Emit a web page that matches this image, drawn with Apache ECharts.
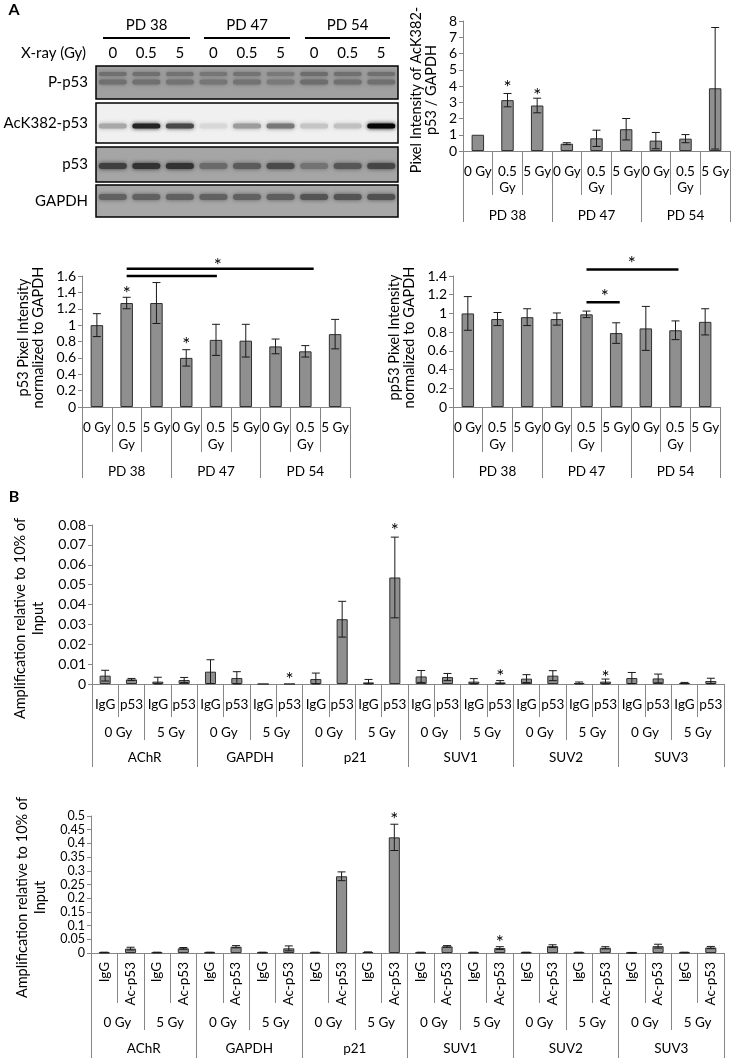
<!DOCTYPE html>
<html><head><meta charset="utf-8">
<script src="https://cdn.jsdelivr.net/npm/echarts@6/dist/echarts.min.js"></script>
<style>html,body{margin:0;padding:0;background:#fff}#c{width:737px;height:1064px}</style>
</head><body><div id="c"></div>
<script>
const FONT = 'Lato';

// ---------- Panel A data ----------
const doseCats = ['0 Gy','0.5\nGy','5 Gy','0 Gy','0.5\nGy','5 Gy','0 Gy','0.5\nGy','5 Gy'];
const pdCats = ['PD 38','PD 47','PD 54'];

const ackValues = [1.0, 3.13, 2.80, 0.45, 0.78, 1.34, 0.64, 0.76, 3.86];
const ackErrors = [0, 0.41, 0.45, 0.06, 0.50, 0.66, 0.50, 0.25, 3.74];
const ackStars = [[1, 4.19], [2, 3.67]];
const ackTicks = {min: 0, max: 8, interval: 1};

const p53Values = [1.0, 1.27, 1.27, 0.60, 0.82, 0.81, 0.74, 0.68, 0.89];
const p53Errors = [0.14, 0.07, 0.25, 0.10, 0.19, 0.20, 0.09, 0.07, 0.18];
const p53Stars = [[1, 1.44], [3, 0.82], [4.06, 1.78]];
const p53Brackets = [[1, 7.28, 1.69], [1, 4.03, 1.60]];
const p53Ticks = {min: 0, max: 1.6, interval: 0.2};

const pp53Values = [1.0, 0.94, 0.96, 0.94, 0.99, 0.79, 0.84, 0.82, 0.91];
const pp53Errors = [0.18, 0.07, 0.09, 0.065, 0.035, 0.11, 0.235, 0.10, 0.14];
const pp53Stars = [[5.53, 1.58], [4.62, 1.23]];
const pp53Brackets = [[4, 7.1, 1.47], [4, 5.12, 1.12]];
const pp53Ticks = {min: 0, max: 1.4, interval: 0.2};

// ---------- Western blot (band darkness per lane, 0..1) ----------
const blotLanes = ['0','0.5','5','0','0.5','5','0','0.5','5'];
const blotRows = ['P-p53','AcK382-p53','p53','GAPDH'];
const bandPp53 = [0.30,0.30,0.28,0.26,0.28,0.24,0.32,0.30,0.30];
const bandAck = [0.30,0.85,0.70,0.10,0.35,0.50,0.18,0.20,0.97];
const bandP53 = [0.62,0.70,0.70,0.36,0.45,0.55,0.30,0.48,0.58];
const bandGapdh = [0.42,0.42,0.42,0.42,0.42,0.44,0.50,0.50,0.52];

// ---------- Panel B data ----------
const chipAb1 = ['IgG','p53','IgG','p53','IgG','p53','IgG','p53','IgG','p53','IgG','p53','IgG','p53','IgG','p53','IgG','p53','IgG','p53','IgG','p53','IgG','p53'];
const chipAb2 = ['IgG','Ac-p53','IgG','Ac-p53','IgG','Ac-p53','IgG','Ac-p53','IgG','Ac-p53','IgG','Ac-p53','IgG','Ac-p53','IgG','Ac-p53','IgG','Ac-p53','IgG','Ac-p53','IgG','Ac-p53','IgG','Ac-p53'];
const chipDoses = ['0 Gy','5 Gy','0 Gy','5 Gy','0 Gy','5 Gy','0 Gy','5 Gy','0 Gy','5 Gy','0 Gy','5 Gy'];
const chipGenes = ['AChR','GAPDH','p21','SUV1','SUV2','SUV3'];

const p53ChipValues = [0.0042,0.0023,0.0012,0.0020, 0.0062,0.0030,0,0, 0.0025,0.0326,0.0008,0.0536, 0.0038,0.0035,0.0012,0.0008, 0.0027,0.0042,0.0005,0.0012, 0.0030,0.0028,0.0005,0.0015];
const p53ChipErrors = [0.0027,0.0005,0.0022,0.0013, 0.0060,0.0032,0,0, 0.0030,0.0090,0.0015,0.0203, 0.0030,0.0018,0.0015,0.0009, 0.0020,0.0025,0.0005,0.0013, 0.0028,0.0022,0.0003,0.0014];
const p53ChipStars = [[7, 0.0045], [11, 0.0795], [15, 0.0062], [19, 0.0057]];
const p53ChipTicks = {min: 0, max: 0.08, interval: 0.01};

const acChipValues = [0.002,0.016,0.002,0.017, 0.002,0.023,0.002,0.017, 0.002,0.280,0.003,0.422, 0.002,0.024,0.002,0.018, 0.002,0.025,0.002,0.019, 0.001,0.025,0.002,0.020];
const acChipErrors = [0.001,0.005,0.001,0.003, 0.001,0.004,0.001,0.009, 0.001,0.016,0.001,0.048, 0.001,0.003,0.001,0.005, 0.001,0.005,0.001,0.004, 0.001,0.007,0.001,0.004];
const acChipStars = [[11, 0.504], [15, 0.055]];
const acChipTicks = {min: 0, max: 0.5, interval: 0.05};

// ---------- builders ----------
const AXIS_GREY = '#868686';
const grids = [], xAxes = [], yAxes = [], series = [];

function errItem(params, api) {
  const x = api.value(0), lo = api.value(1), hi = api.value(2);
  if (!(hi > lo)) return null;
  const a = api.coord([x, hi]), b = api.coord([x, lo]);
  const hw = 4, st = {stroke: '#1a1a1a', lineWidth: 1};
  return {type: 'group', children: [
    {type: 'line', shape: {x1: a[0], y1: a[1], x2: b[0], y2: b[1]}, style: st},
    {type: 'line', shape: {x1: a[0]-hw, y1: a[1], x2: a[0]+hw, y2: a[1]}, style: st},
    {type: 'line', shape: {x1: b[0]-hw, y1: b[1], x2: b[0]+hw, y2: b[1]}, style: st}
  ]};
}
function starItem(params, api) {
  const base = api.coord([0, api.value(1)]);
  const band = api.size([1, 0])[0];
  const x = base[0] + api.value(0) * band;
  return {type: 'text', x: x, y: base[1] + 5,
    style: {text: '*', fontSize: 19, fontFamily: FONT, fill: '#000', align: 'center', verticalAlign: 'middle'}};
}
function bracketItem(params, api) {
  const base = api.coord([0, api.value(2)]);
  const band = api.size([1, 0])[0];
  const x1 = base[0] + api.value(0) * band, x2 = base[0] + api.value(1) * band;
  return {type: 'line', shape: {x1: x1, y1: base[1], x2: x2, y2: base[1]},
    style: {stroke: '#000', lineWidth: 2.5}};
}

function addChart(c) {
  const gi = grids.length;
  grids.push({left: c.left, top: c.top, width: c.width, height: c.height, outerBoundsMode: 'none', containLabel: false});
  const xBase = xAxes.length;
  c.levels.forEach((lv, k) => {
    xAxes.push({
      type: 'category', gridIndex: gi, position: 'bottom', data: lv.data,
      axisLine: {show: k === 0, lineStyle: {color: AXIS_GREY, width: 1}},
      axisTick: {show: true, interval: 0, length: lv.tickLen, lineStyle: {color: AXIS_GREY, width: 1}},
      axisLabel: {interval: 0, margin: lv.margin, fontSize: 13.5, fontFamily: FONT, color: '#000',
        lineHeight: lv.lineHeight || 16, rotate: lv.rotate || 0, hideOverlap: false},
      splitLine: {show: false}
    });
  });
  const yi = yAxes.length;
  const yf = c.yFont || 14;
  yAxes.push({
    type: 'value', gridIndex: gi, min: c.ticks.min, max: c.ticks.max, interval: c.ticks.interval,
    name: c.yName, nameLocation: 'middle', nameGap: c.nameGap, nameRotate: 90,
    nameTextStyle: {fontSize: 14.5, fontFamily: FONT, color: '#000', lineHeight: c.nameLH || 15, padding: c.namePad || 0},
    axisLine: {show: true, lineStyle: {color: AXIS_GREY, width: 1}},
    axisTick: {show: true, length: 4, lineStyle: {color: AXIS_GREY}},
    axisLabel: {fontSize: yf, lineHeight: yf, fontFamily: FONT, color: '#000', margin: 6, hideOverlap: false},
    splitLine: {show: false}
  });
  series.push({
    type: 'bar', xAxisIndex: xBase, yAxisIndex: yi, data: c.values, barWidth: c.barWidth || '42%',
    itemStyle: {color: '#8f8f8f', borderColor: '#303030', borderWidth: 1}, silent: true
  });
  series.push({
    type: 'custom', xAxisIndex: xBase, yAxisIndex: yi, renderItem: errItem, clip: false, silent: true, z: 3,
    encode: {x: 0, y: [1, 2]},
    data: c.values.map((v, i) => [i, Math.max(0, v - c.errors[i]), v + c.errors[i]])
  });
  if (c.stars) series.push({
    type: 'custom', xAxisIndex: xBase, yAxisIndex: yi, renderItem: starItem, clip: false, silent: true, z: 4,
    encode: {x: 0, y: 1}, data: c.stars
  });
  if (c.brackets) series.push({
    type: 'custom', xAxisIndex: xBase, yAxisIndex: yi, renderItem: bracketItem, clip: false, silent: true, z: 4,
    encode: {x: [0, 1], y: 2}, data: c.brackets
  });
}

addChart({left: 463, top: 21, width: 267, height: 130, ticks: ackTicks,
  yName: 'Pixel Intensity of AcK382-\np53 / GAPDH', nameGap: 24, namePad: [0, 8, 0, 0],
  values: ackValues, errors: ackErrors, stars: ackStars,
  levels: [{data: doseCats, tickLen: 44, margin: 13, lineHeight: 16},
           {data: pdCats, tickLen: 71, margin: 57}]});

addChart({left: 82, top: 276, width: 268, height: 131, ticks: p53Ticks,
  yName: 'p53 Pixel Intensity\nnormalized to GAPDH', nameGap: 36, namePad: [0, 0, 0, 8],
  values: p53Values, errors: p53Errors, stars: p53Stars, brackets: p53Brackets,
  levels: [{data: doseCats, tickLen: 45, margin: 12, lineHeight: 17},
           {data: pdCats, tickLen: 71, margin: 57}]});

addChart({left: 453, top: 276, width: 267, height: 131, ticks: pp53Ticks,
  yName: 'pp53 Pixel Intensity\nnormalized to GAPDH', nameGap: 36, namePad: [0, 0, 0, 8],
  values: pp53Values, errors: pp53Errors, stars: pp53Stars, brackets: pp53Brackets,
  levels: [{data: doseCats, tickLen: 45, margin: 12, lineHeight: 17},
           {data: pdCats, tickLen: 71, margin: 57}]});

addChart({left: 92, top: 525, width: 632, height: 159, ticks: p53ChipTicks,
  yName: 'Amplification relative to 10% of\nInput', nameGap: 42, nameLH: 18, namePad: [0, 28, 0, 0],
  values: p53ChipValues, errors: p53ChipErrors, stars: p53ChipStars,
  levels: [{data: chipAb1, tickLen: 33, margin: 13},
           {data: chipDoses, tickLen: 56, margin: 41},
           {data: chipGenes, tickLen: 83, margin: 66}]});

addChart({left: 91, top: 816, width: 633, height: 137, ticks: acChipTicks, yFont: 12.5,
  yName: 'Amplification relative to 10% of\nInput', nameGap: 41, nameLH: 18, namePad: [0, 26, 0, 0],
  values: acChipValues, errors: acChipErrors, stars: acChipStars,
  levels: [{data: chipAb2, tickLen: 50, margin: 9, rotate: 90},
           {data: chipDoses, tickLen: 77, margin: 62},
           {data: chipGenes, tickLen: 105, margin: 88}]});

// ---------- blot drawing (graphic) ----------
function mix(bg, d) { const v = Math.round(bg * (1 - d)); return 'rgb(' + v + ',' + v + ',' + v + ')'; }
const graphic = [];
const T = (text, x, y, o) => graphic.push(Object.assign({type: 'text', x: x, y: y,
  style: Object.assign({text: text, fontFamily: FONT, fontSize: 15, fill: '#000', align: 'center', verticalAlign: 'middle'}, o || {})}));
T('A', 14, 10, {fontWeight: 'bold', fontSize: 16});
T('B', 14, 497, {fontWeight: 'bold', fontSize: 16});
const pdX = [[103, 190], [204, 290], [305, 390]];
pdCats.forEach((p, i) => {
  T(p, (pdX[i][0] + pdX[i][1]) / 2, 25);
  graphic.push({type: 'line', shape: {x1: pdX[i][0], y1: 38, x2: pdX[i][1], y2: 38}, style: {stroke: '#000', lineWidth: 2.2}});
});
T('X-ray (Gy)', 86, 53, {align: 'right'});
const boxL = 96, boxR = 398, laneW = (boxR - boxL) / 9;
const laneX = i => boxL + laneW * (i + 0.5);
blotLanes.forEach((l, i) => T(l, laneX(i), 53));
const boxes = [
  {y0: 66, y1: 99, bg: 160, bands: [[bandPp53, 74, 4], [bandPp53, 82, 5]]},
  {y0: 103, y1: 143, bg: 240, bands: [[bandAck, 126, 5]]},
  {y0: 147, y1: 182, bg: 165, bands: [[bandP53, 166, 6]]},
  {y0: 185, y1: 217, bg: 168, bands: [[bandGapdh, 197, 6]]}
];
boxes.forEach((b, r) => {
  T(blotRows[r], 88, (b.y0 + b.y1) / 2, {align: 'right'});
  graphic.push({type: 'rect', shape: {x: boxL, y: b.y0, width: boxR - boxL, height: b.y1 - b.y0},
    style: {fill: mix(b.bg, 0), stroke: '#000', lineWidth: 1.5}});
  b.bands.forEach(([arr, cy, h]) => arr.forEach((d, i) => {
    const col = mix(b.bg, d);
    graphic.push({type: 'rect', shape: {x: laneX(i) - 14, y: cy - h / 2, width: 28, height: h, r: h / 2},
      style: {fill: col, shadowBlur: 4, shadowColor: col}});
  }));
});

const chart = echarts.init(document.getElementById('c'));
chart.setOption({
  animation: false,
  textStyle: {fontFamily: FONT},
  grid: grids, xAxis: xAxes, yAxis: yAxes, series: series, graphic: graphic
});
</script></body></html>
